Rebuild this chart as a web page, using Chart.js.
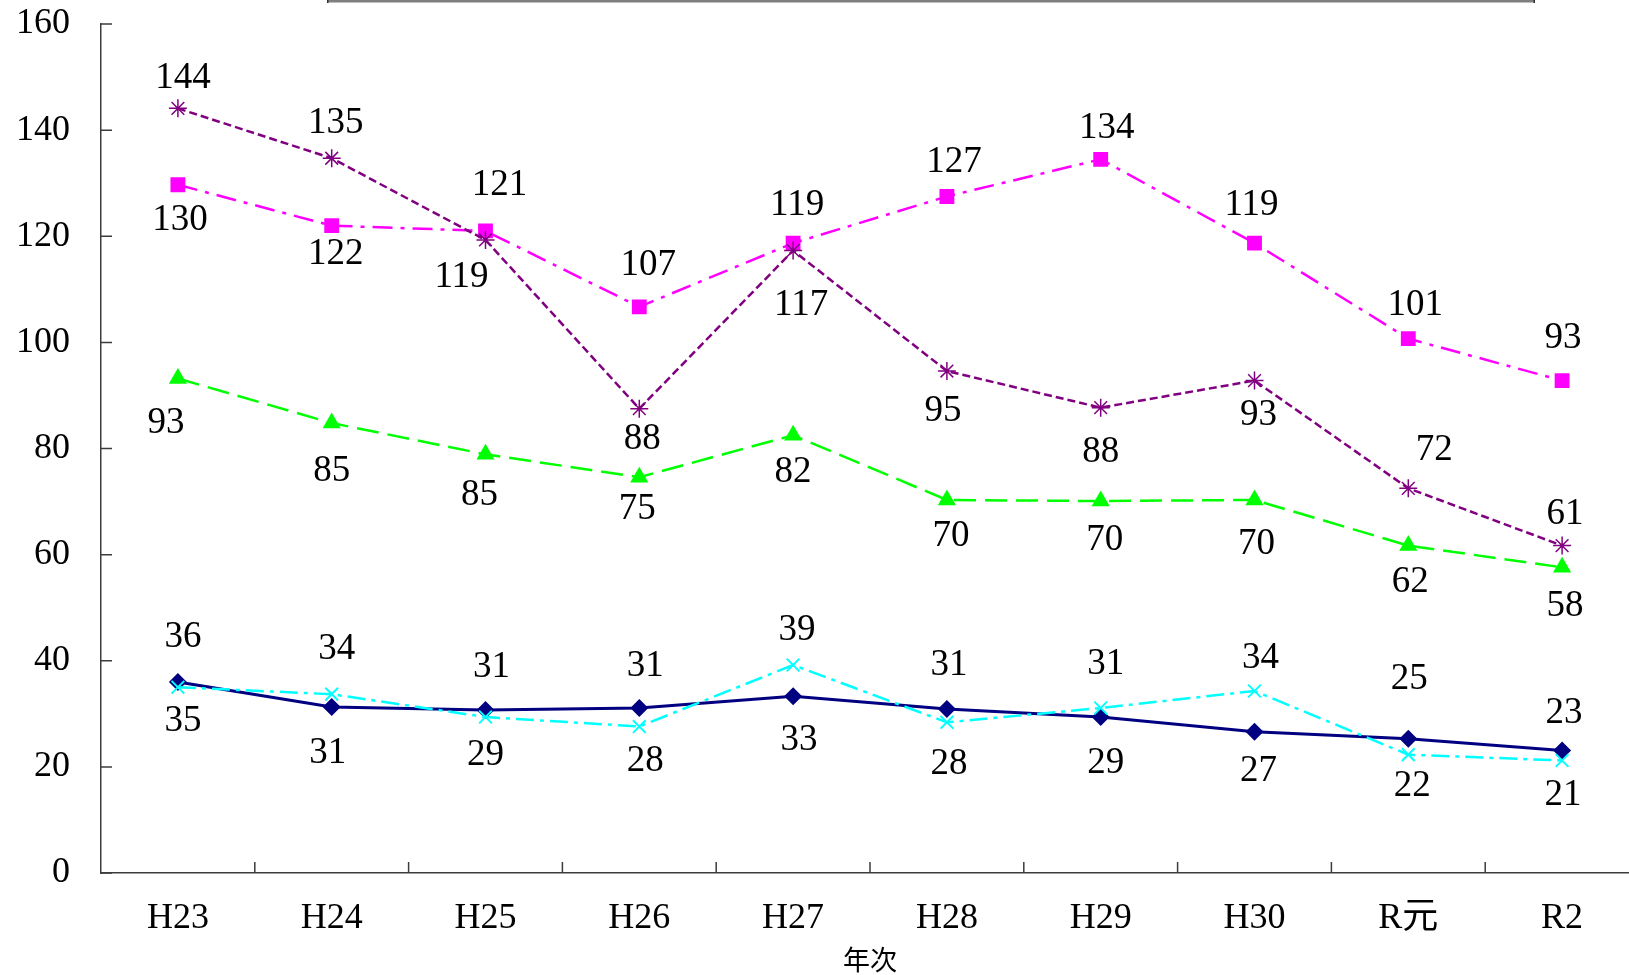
<!DOCTYPE html>
<html>
<head>
<meta charset="utf-8">
<script src="https://cdn.jsdelivr.net/npm/chart.js@4.4.1/dist/chart.umd.min.js"></script>
<style>
    html, body { margin: 0; padding: 0; background: #fff; overflow: hidden; }
    #wrap { width: 1650px; height: 975px; }
</style>
</head>
<body>
<div id="wrap"><canvas id="chart" width="1650" height="975"></canvas></div>
<script>
// Categories (年次)
const years = ['H23', 'H24', 'H25', 'H26', 'H27', 'H28', 'H29', 'H30', 'R元', 'R2'];
const yTicks = [0, 20, 40, 60, 80, 100, 120, 140, 160];

// Series values
const navyValues    = [36.0, 31.3, 30.7, 31.1, 33.3, 30.9, 29.4, 26.6, 25.3, 23.1];
const cyanValues    = [35.0, 33.7, 29.4, 27.6, 39.2, 28.4, 31.1, 34.3, 22.3, 21.2];
const greenValues   = [93.2, 84.8, 78.9, 74.6, 82.5, 70.3, 70.1, 70.3, 61.7, 57.6];
const magentaValues = [129.7, 122.0, 121.0, 106.7, 118.7, 127.5, 134.5, 118.7, 100.7, 92.8];
const purpleValues  = [144.1, 134.7, 119.3, 87.5, 117.3, 94.6, 87.7, 92.8, 72.5, 61.7];

// Data label texts as printed on the chart
const navyLabels    = [36, 31, 31, 31, 33, 31, 29, 27, 25, 23];
const cyanLabels    = [35, 34, 29, 28, 39, 28, 31, 34, 22, 21];
const greenLabels   = [93, 85, 85, 75, 82, 70, 70, 70, 62, 58];
const magentaLabels = [130, 122, 121, 107, 119, 127, 134, 119, 101, 93];
const purpleLabels  = [144, 135, 119, 88, 117, 95, 88, 93, 72, 61];

const FONT = "'Liberation Serif', 'Noto Sans CJK JP', serif";

// label nudges (px) relative to each marker
const nudges = {
    navy:    { dx: [5, -4, 6, 6, 6, 2, 5, 4, 1, 2],      dy: [-45, 46, -43, -42, 44, -44, 46, 39, -59, -37] },
    cyan:    { dx: [5, 5, 0, 6, 4, 2, 5, 6, 4, 1],       dy: [34, -45, 38, 35, -35, 42, -44, -33, 32, 35] },
    green:   { dx: [-12, 0, -6, -2, 0, 4, 4, 2, 2, 3],   dy: [45, 48, 41, 32, 37, 36, 39, 44, 37, 39] },
    magenta: { dx: [2, 4, 14, 9, 4, 7, 6, -3, 7, 1],     dy: [36, 29, -46, -42, -38, -34, -31, -38, -33, -42] },
    purple:  { dx: [5, 4, -24, 3, 8, -4, 0, 4, 26, 3],   dy: [-30, -35, 37, 31, 55, 40, 45, 35, -38, -31] }
};

// Draws data labels, inner tick marks and the cut-off legend box edge
const extras = {
    id: 'extras',
    afterDatasetsDraw(chart) {
        const ctx = chart.ctx;
        ctx.save();
        ctx.font = '37px ' + FONT;
        ctx.fillStyle = '#000';
        ctx.textAlign = 'center';
        ctx.textBaseline = 'middle';
        chart.data.datasets.forEach((ds, di) => {
            const meta = chart.getDatasetMeta(di);
            const n = nudges[ds.key];
            meta.data.forEach((pt, i) => {
                ctx.fillText(String(ds.labelText[i]), pt.x + n.dx[i], pt.y + n.dy[i]);
            });
        });
        ctx.restore();
    },
    afterDraw(chart) {
        const ctx = chart.ctx;
        const x = chart.scales.x;
        const y = chart.scales.y;
        const area = chart.chartArea;
        ctx.save();
        ctx.strokeStyle = '#3c3c3c';
        ctx.lineWidth = 1.5;
        ctx.beginPath();
        y.ticks.forEach(t => {
            const py = y.getPixelForValue(t.value);
            ctx.moveTo(area.left, py);
            ctx.lineTo(area.left + 11, py);
        });
        const half = (x.getPixelForValue(1) - x.getPixelForValue(0)) / 2;
        for (let i = 1; i <= years.length; i++) {
            const px = x.getPixelForValue(i) - half;
            ctx.moveTo(px, area.bottom);
            ctx.lineTo(px, area.bottom - 11);
        }
        ctx.stroke();

        // bottom edge of the legend box, cropped at the top
        ctx.fillStyle = '#7f7f7f';
        ctx.fillRect(327, 0, 1208, 2.5);
        ctx.fillStyle = '#333';
        ctx.fillRect(327, 0, 1.5, 3);
        ctx.fillRect(1533.5, 0, 1.5, 3);
        ctx.restore();
    }
};

new Chart(document.getElementById('chart'), {
    type: 'line',
    data: {
        labels: years,
        datasets: [
            {
                key: 'purple', label: '系列5', data: purpleValues, labelText: purpleLabels,
                borderColor: '#800080', backgroundColor: '#800080', borderWidth: 2.5,
                borderDash: [8, 4], pointStyle: 'star', pointRadius: 9,
                pointBorderColor: '#800080', pointBorderWidth: 1.5
            },
            {
                key: 'magenta', label: '系列4', data: magentaValues, labelText: magentaLabels,
                borderColor: '#ff00ff', backgroundColor: '#ff00ff', borderWidth: 2.5,
                borderDash: [20, 8, 4, 8], pointStyle: 'rect', pointRadius: 10.5,
                pointBorderWidth: 0
            },
            {
                key: 'green', label: '系列3', data: greenValues, labelText: greenLabels,
                borderColor: '#00ff00', backgroundColor: '#00ff00', borderWidth: 2.5,
                borderDash: [22, 9], pointStyle: 'triangle', pointRadius: 10.5,
                pointBorderWidth: 0
            },
            {
                key: 'cyan', label: '系列2', data: cyanValues, labelText: cyanLabels,
                borderColor: '#00ffff', backgroundColor: '#00ffff', borderWidth: 2.5,
                borderDash: [18, 6, 4, 6], pointStyle: 'crossRot', pointRadius: 9,
                pointBorderColor: '#00ffff', pointBorderWidth: 2
            },
            {
                key: 'navy', label: '系列1', data: navyValues, labelText: navyLabels,
                borderColor: '#000080', backgroundColor: '#000080', borderWidth: 3,
                pointStyle: 'rectRot', pointRadius: 9, pointBorderWidth: 0
            }
        ]
    },
    options: {
        responsive: false,
        animation: false,
        devicePixelRatio: 1,
        layout: { padding: { top: 24, right: 7, left: 0, bottom: 0 } },
        elements: { line: { tension: 0, fill: false } },
        plugins: {
            legend: { display: false },
            tooltip: { enabled: false }
        },
        scales: {
            x: {
                offset: true,
                grid: { display: false, drawTicks: false },
                border: { display: true, color: '#3c3c3c', width: 1.5 },
                ticks: { color: '#000', padding: 24, font: { family: FONT, size: 36 } },
                title: {
                    display: true, text: '年次', color: '#000',
                    font: { family: FONT, size: 27, lineHeight: 1.0 }, padding: { top: 0, bottom: -1 }
                },
                afterFit(scale) {
                    scale.height = 102;
                    scale.paddingLeft = 0;
                    scale.paddingRight = 0;
                }
            },
            y: {
                min: 0,
                max: 160,
                afterBuildTicks(scale) { scale.ticks = yTicks.map(v => ({ value: v })); },
                grid: { display: false, drawTicks: false },
                border: { display: true, color: '#3c3c3c', width: 1.5 },
                ticks: { color: '#000', padding: 31, font: { family: FONT, size: 36 } },
                afterFit(scale) {
                    scale.width = 101;
                    scale.paddingTop = 0;
                    scale.paddingBottom = 0;
                }
            }
        }
    },
    plugins: [extras]
});
</script>
</body>
</html>
